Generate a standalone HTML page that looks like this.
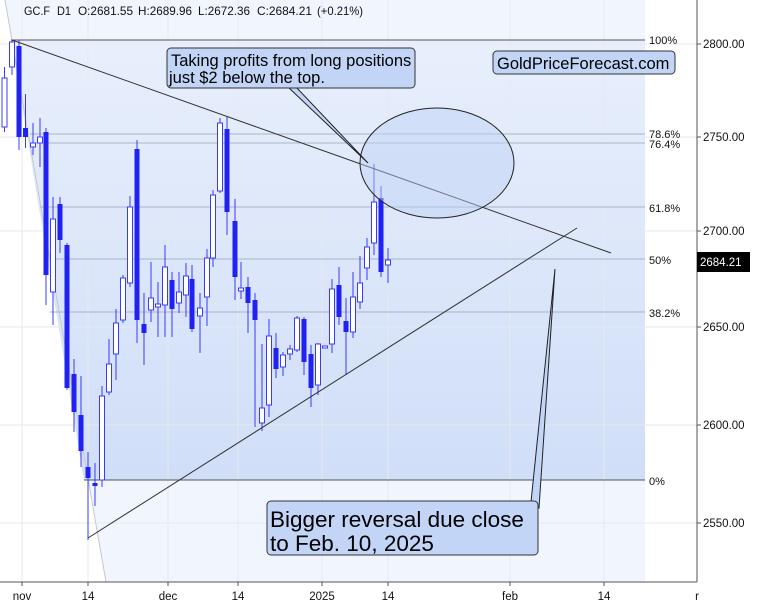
<!DOCTYPE html>
<html><head><meta charset="utf-8"><style>
html,body{margin:0;padding:0;background:#fff;}
svg{display:block;font-family:"Liberation Sans",Arial,sans-serif;}
</style></head><body>
<svg id="s" width="768" height="607" viewBox="0 0 768 607" xmlns="http://www.w3.org/2000/svg">
<defs>
<linearGradient id="g" x1="0" y1="0" x2="0" y2="1">
<stop offset="0" stop-color="#e8effc"/><stop offset="1" stop-color="#d0def8"/>
</linearGradient>
</defs>
<rect width="768" height="607" fill="#fff"/>
<polygon points="5,0 645,0 645,582 106,582" fill="#f0f5fe"/>
<polygon points="11,40 645,40 645,480 84,480" fill="url(#g)"/>
<g stroke="#e6e9f0" stroke-width="1">
<line x1="22" y1="0" x2="22" y2="582"/><line x1="88" y1="0" x2="88" y2="582"/>
<line x1="168" y1="0" x2="168" y2="582"/><line x1="238" y1="0" x2="238" y2="582"/>
<line x1="322" y1="0" x2="322" y2="582"/><line x1="388" y1="0" x2="388" y2="582"/>
<line x1="510" y1="0" x2="510" y2="582"/><line x1="604" y1="0" x2="604" y2="582"/>
<line x1="0" y1="44" x2="697" y2="44"/><line x1="0" y1="137" x2="697" y2="137"/>
<line x1="0" y1="231" x2="697" y2="231"/><line x1="0" y1="327" x2="697" y2="327"/>
<line x1="0" y1="425" x2="697" y2="425"/><line x1="0" y1="523" x2="697" y2="523"/>
</g>
<line x1="5" y1="0" x2="106" y2="582" stroke="#c8c8c8" stroke-width="1"/>
<g stroke="#555" stroke-width="1">
<line x1="11" y1="40" x2="645" y2="40"/>
<line x1="84" y1="480" x2="645" y2="480"/>
</g>
<g stroke="#aab4c6" stroke-width="1">
<line x1="30" y1="134" x2="645" y2="134"/>
<line x1="30" y1="143" x2="645" y2="143"/>
<line x1="40" y1="207" x2="645" y2="207"/>
<line x1="50" y1="259" x2="645" y2="259"/>
<line x1="50" y1="312" x2="645" y2="312"/>
</g>
<g font-size="11" fill="#111">
<text x="649" y="44">100%</text><text x="649" y="138">78.6%</text><text x="649" y="148">76.4%</text>
<text x="649" y="212">61.8%</text><text x="649" y="264">50%</text><text x="649" y="317">38.2%</text>
<text x="649" y="485">0%</text>
</g>
<g id="candles"></g>
<line x1="12" y1="40" x2="611" y2="253" stroke="#333" stroke-width="1"/>
<line x1="88" y1="538" x2="577" y2="228" stroke="#333" stroke-width="1"/>
<ellipse cx="437" cy="163" rx="77" ry="55" fill="#bcd0f4" fill-opacity="0.45" stroke="#222" stroke-width="1"/>
<polygon points="288,87 296,87 368,163" fill="#c3d5f7" stroke="#222" stroke-width="1"/>
<rect x="167" y="48" width="248" height="40" rx="4" fill="#c3d5f7" stroke="#333" stroke-width="1"/>
<text x="171" y="66" font-size="16.5" fill="#000">Taking profits from long positions</text>
<text x="169" y="83" font-size="16.5" fill="#000">just $2 below the top.</text>
<rect x="493" y="51" width="182" height="23" rx="4" fill="#c3d5f7" stroke="#333" stroke-width="1"/>
<text x="497" y="69" font-size="16.5" fill="#000">GoldPriceForecast.com</text>
<polygon points="531,502 539,508 555,269" fill="#c3d5f7" stroke="#222" stroke-width="1"/>
<rect x="267" y="501" width="271" height="54" rx="4" fill="#c3d5f7" stroke="#333" stroke-width="1"/>
<text x="270" y="527" font-size="22.5" fill="#000">Bigger reversal due close</text>
<text x="270" y="551" font-size="22.5" fill="#000">to Feb. 10, 2025</text>
<line x1="697" y1="0" x2="697" y2="582" stroke="#555"/>
<line x1="0" y1="582" x2="697" y2="582" stroke="#555"/>
<g stroke="#555">
<line x1="697" y1="44" x2="701" y2="44"/><line x1="697" y1="137" x2="701" y2="137"/>
<line x1="697" y1="231" x2="701" y2="231"/><line x1="697" y1="327" x2="701" y2="327"/>
<line x1="697" y1="425" x2="701" y2="425"/><line x1="697" y1="523" x2="701" y2="523"/>
<line x1="22" y1="582" x2="22" y2="586"/><line x1="88" y1="582" x2="88" y2="586"/>
<line x1="168" y1="582" x2="168" y2="586"/><line x1="238" y1="582" x2="238" y2="586"/>
<line x1="322" y1="582" x2="322" y2="586"/><line x1="388" y1="582" x2="388" y2="586"/>
<line x1="510" y1="582" x2="510" y2="586"/><line x1="604" y1="582" x2="604" y2="586"/>
</g>
<g font-size="11.5" fill="#111">
<text x="703" y="48">2800.00</text><text x="703" y="141">2750.00</text><text x="703" y="235">2700.00</text>
<text x="703" y="331">2650.00</text><text x="703" y="429">2600.00</text><text x="703" y="527">2550.00</text>
</g>
<rect x="697" y="252" width="53" height="20" fill="#000"/>
<text x="700" y="266" font-size="11.5" fill="#fff">2684.21</text>
<g font-size="11.5" fill="#111" text-anchor="middle">
<text x="22" y="600">nov</text><text x="88" y="600">14</text><text x="168" y="600">dec</text>
<text x="238" y="600">14</text><text x="322" y="600">2025</text><text x="388" y="600">14</text>
<text x="510" y="600">feb</text><text x="604" y="600">14</text><text x="697" y="600">r</text>
</g>
<g font-size="12" fill="#111">
<text x="24" y="15" textLength="26" lengthAdjust="spacingAndGlyphs">GC.F</text>
<text x="57" y="15" textLength="14" lengthAdjust="spacingAndGlyphs">D1</text>
<text x="78" y="15" textLength="55" lengthAdjust="spacingAndGlyphs">O:2681.55</text>
<text x="138" y="15" textLength="54" lengthAdjust="spacingAndGlyphs">H:2689.96</text>
<text x="198" y="15" textLength="52" lengthAdjust="spacingAndGlyphs">L:2672.36</text>
<text x="257" y="15" textLength="55" lengthAdjust="spacingAndGlyphs">C:2684.21</text>
<text x="317" y="15" textLength="46" lengthAdjust="spacingAndGlyphs">(+0.21%)</text>
</g>
</svg>
<script>
var c=[
[4.5,78,127,67,132,0],[12,42,67,40,75,0],[19,46,137,40,150,1],[25.5,128,137,94,148,1],[33,143,147,123,155,0],
[40,137,143,118,167,0],[46,132,275,128,305,1],[53,219,292,197,325,0],[60,204,240,197,253,1],[67,245,388,243,390,1],
[74,374,412,359,432,1],[81,415,451,376,467,1],[88,467,478,452,540,1],[95,483,486,463,506,1],[102,396,480,386,487,0],
[109,364,392,339,395,0],[116,323,354,309,380,0],[123,278,320,275,323,0],[130,207,283,196,287,0],[137,149,320,140,343,1],
[144,324,333,293,365,1],[151,298,310,262,322,0],[158,304,307,282,337,0],[165,267,305,245,337,0],[172,280,309,272,337,1],
[179,292,303,272,313,0],[186,276,295,263,317,0],[192,279,329,265,332,1],[200,308,316,293,353,0],[207,258,297,249,326,0],
[213,195,258,190,267,0],[220,123,191,118,193,0],[227,129,212,116,235,1],[235,221,277,199,300,1],[241,288,291,262,299,0],
[248,287,303,277,333,1],[255,300,320,293,427,1],[262,408,423,344,431,0],[269,336,405,319,417,0],[276,348,369,333,378,1],
[283,355,367,352,376,0],[290,349,354,345,360,0],[297,318,350,316,352,0],[304,319,362,317,375,1],[311,354,388,345,407,1],
[318,344,385,343,395,0],[325,346,348,346,348,0],[332,289,344,279,353,0],[339,285,317,267,325,1],[346,321,332,298,375,1],
[353,297,332,272,338,0],[360,283,302,256,309,0],[367,247,268,238,280,0],[374,202,243,164,255,0],[381,198,272,186,277,1],
[388,260,265,248,283,0]];
var g=document.getElementById('candles'),h='';
c.forEach(function(d){
 var x=d[0];
 h+='<line x1="'+x+'" y1="'+d[3]+'" x2="'+x+'" y2="'+d[4]+'" stroke="#3a3cf5" stroke-width="1"/>';
 var bh=Math.max(d[2]-d[1],1);
 if(d[5]) h+='<rect x="'+(x-2.5)+'" y="'+d[1]+'" width="5" height="'+bh+'" fill="#1f22f2"/>';
 else h+='<rect x="'+(x-2.5)+'" y="'+d[1]+'" width="5" height="'+bh+'" fill="#fff" stroke="#3a3cf5" stroke-width="1"/>';
});
g.innerHTML=h;
</script>
</body></html>
